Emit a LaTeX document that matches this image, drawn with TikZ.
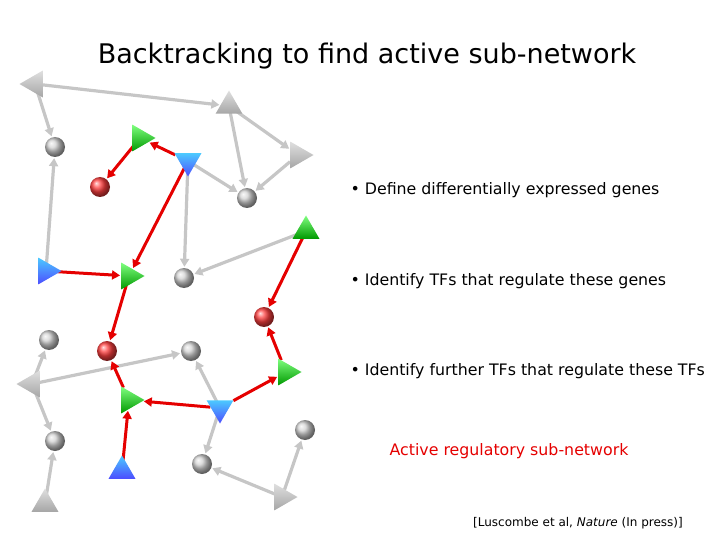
\documentclass[tikz,border=0pt]{standalone}
\usepackage{fontspec}
\setmainfont{DejaVu Sans}
\usetikzlibrary{shapes.geometric,arrows.meta}
\pgfdeclarelayer{bg}
\pgfsetlayers{bg,main}
\begin{document}
\begin{tikzpicture}[x=1pt,y=-1pt,
 tri/.style={regular polygon,regular polygon sides=3,minimum size=31pt,inner sep=0pt},
 R/.style={tri,shape border rotate=-90},L/.style={tri,shape border rotate=90},
 D/.style={tri,shape border rotate=180},U/.style={tri},
 gr/.style={top color=gray!25,bottom color=gray!70},
 gn/.style={top color=green!50!white,bottom color=green!60!black},
 bl/.style={top color=blue!30!cyan!70!white,bottom color=blue!70!white},
 gc/.style={circle,minimum size=20pt,inner sep=0pt,ball color=gray!35},
 rc/.style={circle,minimum size=20pt,inner sep=0pt,ball color=red!75!white},
 ge/.style={draw=gray!45,line width=3.2pt,-{Triangle[length=8pt,width=9pt]},shorten >=1pt},
 re/.style={draw=red!90!black,line width=3pt,-{Triangle[length=8pt,width=9pt]},shorten >=1pt},
 bul/.style={anchor=west,font=\fontsize{15.8}{18}\selectfont}]
\useasboundingbox (0,0) rectangle (720,540);
\node[font=\fontsize{27}{32}\selectfont] (title) at (367,56) {Backtracking to find active sub-network};
% nodes
\node[L,gr] (t1) at (35,84) {};
\node[U,gr] (t2) at (229,106) {};
\node[R,gr] (t3) at (298,155) {};
\node[R,gn] (g1) at (140,138) {};
\node[D,bl] (b1) at (188,161) {};
\node[U,gn] (g2) at (306,231) {};
\node[R,bl] (b2) at (46,271) {};
\node[R,gn] (g3) at (129,276) {};
\node[L,gr] (t4) at (32,384) {};
\node[R,gn] (g4) at (129,400) {};
\node[D,bl] (b3) at (220,408) {};
\node[R,gn] (g5) at (286,372) {};
\node[U,bl] (b4) at (122,471) {};
\node[U,gr] (t5) at (45,504) {};
\node[R,gr] (t6) at (282,497) {};
\node[gc] (c1) at (55,147) {};
\node[rc] (r1) at (100,187) {};
\node[gc] (c2) at (247,198) {};
\node[gc] (c3) at (184,278) {};
\node[rc] (r2) at (264,317) {};
\node[gc] (c4) at (49,340) {};
\node[rc] (r3) at (107,351) {};
\node[gc] (c5) at (191,351) {};
\node[gc] (c6) at (55,441) {};
\node[gc] (c7) at (202,464) {};
\node[gc] (c8) at (305,430) {};
\begin{pgfonlayer}{bg}
% gray edges
\draw[ge] (t1.center) -- (t2);
\draw[ge] (t1.center) -- (c1);
\draw[ge] (t2.center) -- (t3);
\draw[ge] (t2.center) -- (c2);
\draw[ge] (t3) -- (c2);
\draw[ge] (b1.center) -- (c2);
\draw[ge] (b1.center) -- (c3);
\draw[ge] (g2.center) -- (c3);
\draw[ge] (b2.center) -- (c1);
\draw[ge] (t4.center) -- (c4);
\draw[ge] (t4.center) -- (c6);
\draw[ge] (t4.center) -- (c5);
\draw[ge] (t5.center) -- (c6);
\draw[ge] (b3.center) -- (c5);
\draw[ge] (b3.center) -- (c7);
\draw[ge] (t6.center) -- (c7);
\draw[ge] (t6.center) -- (c8);
% red edges
\draw[re] (g1.center) -- (r1);
\draw[re] (b1) -- (g1);
\draw[re] (b1.center) -- (g3);
\draw[re] (b2.center) -- (g3);
\draw[re] (g2.center) -- (r2);
\draw[re] (g3.center) -- (r3);
\draw[re] (g4) -- (r3);
\draw[re] (b3) -- (g4);
\draw[re] (b3) -- (g5);
\draw[re] (g5) -- (r2);
\draw[re] (b4.center) -- (g4);
\end{pgfonlayer}
% text
\node[bul] (s1) at (347,190) {• Define differentially expressed genes};
\node[bul] (s2) at (347,281) {• Identify TFs that regulate these genes};
\node[bul] (s3) at (347,371) {• Identify further TFs that regulate these TFs};
\node[font=\fontsize{15.8}{18}\selectfont,text=red!90!black] (act) at (509,451) {Active regulatory sub-network};
\node[font=\fontsize{12}{14}\selectfont] (cit) at (578,523) {[Luscombe et al, \textit{Nature} (In press)]};
\end{tikzpicture}
\end{document}
